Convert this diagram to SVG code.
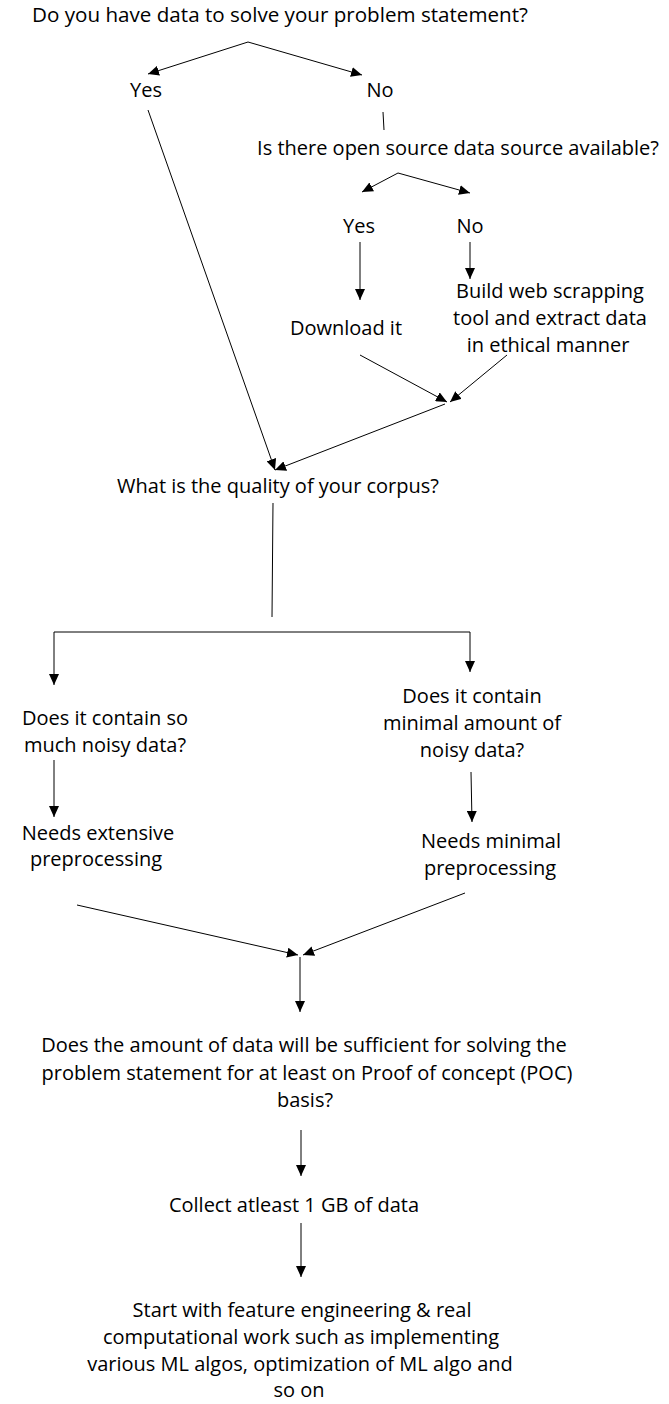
<svg xmlns="http://www.w3.org/2000/svg" width="669" height="1404" viewBox="0 0 669 1404">
<style>
text{font-family:"Open Sans","Noto Sans","Liberation Sans",sans-serif;font-size:20px;fill:#000;text-anchor:middle}
.t{font-size:20.6px}
.c line,.c polyline{stroke:#000;stroke-width:1;fill:none}
.a{marker-end:url(#ah)}
</style>
<defs>
<marker id="ah" markerUnits="userSpaceOnUse" markerWidth="11" markerHeight="10" refX="11" refY="5" orient="auto">
<path d="M0,0 L11,5 L0,10 z" fill="#000"/>
</marker>
</defs>
<rect width="669" height="1404" fill="#fff"/>
<g class="c" id="connectors">
<line class="a" x1="248" y1="42" x2="148" y2="74"/>
<line class="a" x1="248" y1="42" x2="362" y2="75"/>
<line class="a" x1="148" y1="110" x2="275" y2="470"/>
<line x1="383" y1="112" x2="384" y2="130"/>
<line class="a" x1="398" y1="173" x2="362" y2="192"/>
<line class="a" x1="398" y1="173" x2="470" y2="193"/>
<line class="a" x1="360" y1="242" x2="360" y2="300"/>
<line class="a" x1="470" y1="242" x2="470" y2="279"/>
<line class="a" x1="360" y1="355" x2="447" y2="402"/>
<line class="a" x1="507" y1="355" x2="450" y2="402"/>
<line class="a" x1="445" y1="404" x2="275" y2="470"/>
<line x1="273" y1="503" x2="272" y2="617"/>
<polyline points="54,632 470,632"/>
<line class="a" x1="54" y1="632" x2="54" y2="685"/>
<line class="a" x1="470" y1="632" x2="470" y2="672"/>
<line class="a" x1="54" y1="760" x2="54" y2="817"/>
<line class="a" x1="471" y1="772" x2="472" y2="822"/>
<line class="a" x1="77" y1="905" x2="298" y2="955"/>
<line class="a" x1="465" y1="893" x2="303" y2="955"/>
<line class="a" x1="300" y1="957" x2="300" y2="1012"/>
<line class="a" x1="301" y1="1130" x2="301" y2="1176"/>
<line class="a" x1="301" y1="1223" x2="301" y2="1277"/>
</g>
<g id="q1"><text class="t" x="280" y="22">Do you have data to solve your problem statement?</text></g>
<g id="yes1"><text x="146" y="97">Yes</text></g>
<g id="no1"><text x="380" y="97">No</text></g>
<g id="q2"><text x="458" y="155">Is there open source data source available?</text></g>
<g id="yes2"><text x="359" y="233">Yes</text></g>
<g id="no2"><text x="470" y="233">No</text></g>
<g id="download"><text x="346" y="335">Download it</text></g>
<g id="scrape"><text x="550" y="298">Build web scrapping</text><text x="550" y="325">tool and extract data</text><text x="548" y="352">in ethical manner</text></g>
<g id="quality"><text x="278" y="493">What is the quality of your corpus?</text></g>
<g id="noisy"><text x="105" y="725">Does it contain so</text><text x="105" y="752">much noisy data?</text></g>
<g id="minimal"><text x="472" y="703">Does it contain</text><text x="472" y="730">minimal amount of</text><text x="472" y="757">noisy data?</text></g>
<g id="extensive"><text x="98" y="840">Needs extensive</text><text x="96" y="866">preprocessing</text></g>
<g id="minprep"><text x="491" y="848">Needs minimal</text><text x="490" y="875">preprocessing</text></g>
<g id="sufficient"><text x="304" y="1052">Does the amount of data will be sufficient for solving the</text><text x="307" y="1080">problem statement for at least on Proof of concept (POC)</text><text x="305" y="1107">basis?</text></g>
<g id="collect"><text x="294" y="1212">Collect atleast 1 GB of data</text></g>
<g id="start"><text x="302" y="1317">Start with feature engineering &amp; real</text><text x="301" y="1344">computational work such as implementing</text><text x="300" y="1371">various ML algos, optimization of ML algo and</text><text x="299" y="1397">so on</text></g>
</svg>
